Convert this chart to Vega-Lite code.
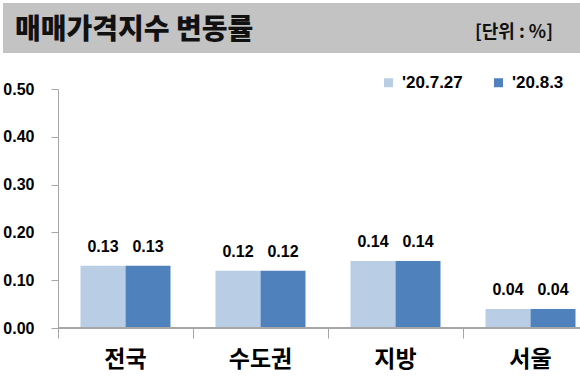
{
  "$schema": "https://vega.github.io/schema/vega-lite/v6.json",
  "padding": {"left": 2, "top": 3, "right": 0, "bottom": 0},
  "spacing": 21,
  "resolve": {"scale": {"color": "independent"}, "legend": {"color": "independent"}},
  "config": {"view": {"stroke": null}, "font": "Liberation Sans"},
  "vconcat": [
    {
      "width": 578,
      "height": 50,
      "view": {"fill": "#c3c3c3", "stroke": null},
      "data": {"values": [
        {"label": "매매가격지수 변동률", "side": "left"},
        {"label": "[단위 : %]", "side": "right"}
      ]},
      "layer": [
        {
          "transform": [{"filter": "datum.side === 'left'"}],
          "mark": {"type": "text", "align": "left", "dx": 12, "dy": 3, "font": "Noto Sans CJK KR", "fontSize": 28, "fontWeight": 900, "color": "#111111"},
          "encoding": {
            "x": {"field": "side", "type": "nominal", "axis": null, "scale": {"type": "band", "domain": ["left", "right"], "paddingInner": 0, "paddingOuter": 0}, "bandPosition": 0},
            "text": {"field": "label"}
          }
        },
        {
          "transform": [{"filter": "datum.side === 'right'"}],
          "mark": {"type": "text", "align": "right", "dx": -28, "dy": 5, "font": "Noto Sans CJK KR", "fontSize": 18, "fontWeight": "bold", "color": "#111111"},
          "encoding": {
            "x": {"field": "side", "type": "nominal", "axis": null, "bandPosition": 1},
            "text": {"field": "label"}
          }
        }
      ]
    },
    {
      "width": 578,
      "height": 239,
      "data": {"values": [
        {"region": "전국", "date": "'20.7.27", "value": 0.13},
        {"region": "전국", "date": "'20.8.3", "value": 0.13},
        {"region": "수도권", "date": "'20.7.27", "value": 0.12},
        {"region": "수도권", "date": "'20.8.3", "value": 0.12},
        {"region": "지방", "date": "'20.7.27", "value": 0.14},
        {"region": "지방", "date": "'20.8.3", "value": 0.14},
        {"region": "서울", "date": "'20.7.27", "value": 0.04},
        {"region": "서울", "date": "'20.8.3", "value": 0.04}
      ]},
      "layer": [
        {
          "mark": {"type": "bar"},
          "encoding": {
            "x": {
              "field": "region", "type": "nominal", "sort": ["전국", "수도권", "지방", "서울"],
              "scale": {"paddingInner": 0, "paddingOuter": 0, "range": [55, 595]},
              "axis": {"title": null, "bandPosition": 0, "domain": false, "tickSize": 10, "tickColor": "#a6a6a6", "labelFont": "Noto Sans CJK KR", "labelFontSize": 23, "labelFontWeight": "bold", "labelColor": "#000000", "labelPadding": 10, "labelAngle": 0}
            },
            "xOffset": {"field": "date", "type": "nominal", "sort": ["'20.7.27", "'20.8.3"], "scale": {"paddingInner": 0, "paddingOuter": 0.5}},
            "y": {
              "field": "value", "type": "quantitative", "scale": {"domain": [0, 0.5]},
              "axis": {"title": null, "offset": -55, "values": [0, 0.1, 0.2, 0.3, 0.4, 0.5], "format": ".2f", "grid": false, "domainColor": "#a6a6a6", "tickColor": "#a6a6a6", "tickSize": 7, "labelFontSize": 16, "labelFontWeight": "bold", "labelColor": "#000000", "labelPadding": 17}
            },
            "color": {
              "field": "date", "type": "nominal",
              "scale": {"domain": ["'20.7.27", "'20.8.3"], "range": ["#b9cde5", "#4f81bd"]},
              "legend": {"orient": "none", "legendX": 377, "legendY": -15, "direction": "horizontal", "title": null, "symbolType": "square", "symbolSize": 81, "symbolStrokeWidth": 0, "symbolOpacity": 1, "labelFontSize": 17, "labelFontWeight": "bold", "labelFont": "Liberation Sans", "labelColor": "#000000", "columnPadding": 27, "labelOffset": 5}
            }
          }
        },
        {
          "mark": {"type": "text", "dy": -14, "baseline": "alphabetic", "fontSize": 16, "fontWeight": "bold", "color": "#000000"},
          "encoding": {
            "x": {"field": "region", "type": "nominal", "sort": ["전국", "수도권", "지방", "서울"]},
            "xOffset": {"field": "date", "type": "nominal", "sort": ["'20.7.27", "'20.8.3"]},
            "y": {"field": "value", "type": "quantitative"},
            "text": {"field": "value", "type": "quantitative", "format": ".2f"}
          }
        },
        {
          "mark": {"type": "rule", "color": "#a6a6a6", "strokeWidth": 1},
          "encoding": {
            "x": {"datum": "전국", "bandPosition": 0},
            "x2": {"value": "width"},
            "y": {"datum": 0}
          }
        }
      ]
    }
  ]
}
